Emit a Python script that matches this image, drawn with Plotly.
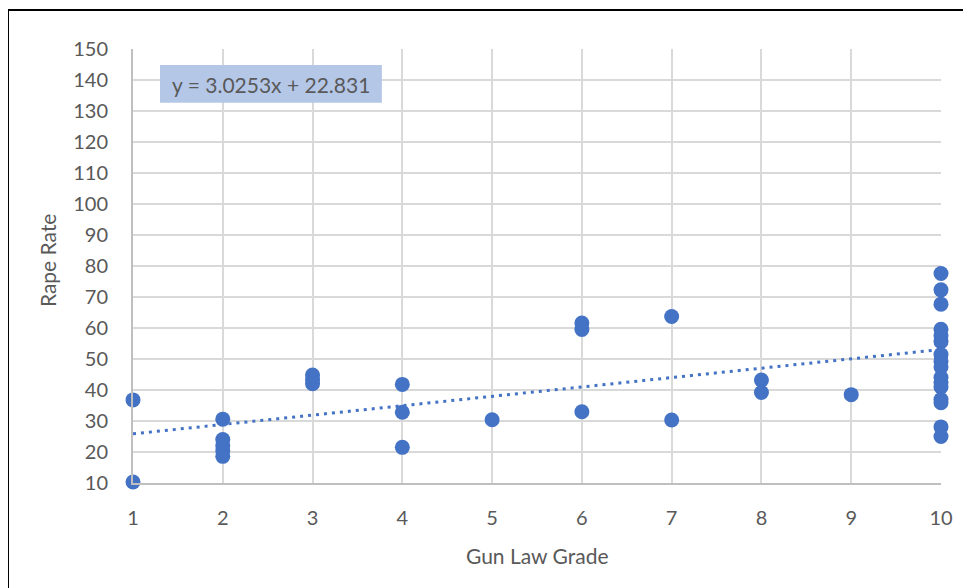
import plotly.graph_objects as go

# Data
grade = [1, 1,
         2, 2, 2, 2, 2,
         3, 3, 3,
         4, 4, 4,
         5,
         6, 6, 6,
         7, 7,
         8, 8,
         9,
         10, 10, 10, 10, 10, 10, 10, 10, 10, 10, 10, 10, 10, 10, 10, 10, 10, 10]
rape_rate = [36.8, 10.3,
             30.6, 24.0, 22.0, 20.4, 18.6,
             44.8, 43.3, 42.0,
             41.8, 32.8, 21.5,
             30.4,
             61.6, 59.5, 33.0,
             63.7, 30.3,
             43.2, 39.2,
             38.5,
             151.2, 77.6, 72.3, 67.7, 59.6, 57.5, 55.6, 51.4, 49.3, 47.4, 44.0, 42.5, 41.0, 36.9, 35.9, 28.1, 25.0]

trend_slope = 3.0253
trend_intercept = 22.831
trend_x = [1, 10]
trend_y = [trend_slope * v + trend_intercept for v in trend_x]
equation_text = "y = 3.0253x + 22.831"

x_ticks = list(range(1, 11))
y_ticks = list(range(10, 151, 10))

BLUE = "#4472C4"
TXT = "#595959"
FONT = "Lato"

fig = go.Figure()
fig.add_trace(go.Scatter(
    x=trend_x, y=trend_y, mode="lines",
    line=dict(color=BLUE, width=3, dash="3px,5px"),
    hoverinfo="skip", showlegend=False, cliponaxis=False))
fig.add_trace(go.Scatter(
    x=grade, y=rape_rate, mode="markers",
    marker=dict(color=BLUE, size=15, line=dict(width=0)),
    showlegend=False, cliponaxis=False))

fig.update_layout(
    width=963, height=580,
    margin=dict(l=125, r=30, t=41, b=105),
    paper_bgcolor="white", plot_bgcolor="white",
    font=dict(family=FONT, color=TXT, size=20),
    xaxis=dict(range=[1, 10], tickvals=x_ticks, showgrid=True,
               gridcolor="#D9D9D9", gridwidth=2, zeroline=False,
               showline=True, linecolor="#BFBFBF", linewidth=2,
               ticks="", ticklabelstandoff=16,
               tickfont=dict(family=FONT, size=20, color=TXT)),
    yaxis=dict(range=[10, 150], tickvals=y_ticks, showgrid=True,
               gridcolor="#D9D9D9", gridwidth=2, zeroline=False,
               showline=True, linecolor="#BFBFBF", linewidth=2,
               ticks="", ticklabelstandoff=19,
               tickfont=dict(family=FONT, size=20, color=TXT)),
)

# Equation label box
fig.add_shape(type="rect", xref="paper", yref="paper",
              x0=0.0334, x1=0.308, y0=0.876, y1=0.963,
              fillcolor="#B4C7E7", line=dict(width=0), layer="above")
fig.add_annotation(xref="paper", yref="paper", x=0.171, y=0.919,
                   text=equation_text, showarrow=False,
                   font=dict(family=FONT, size=21, color=TXT),
                   xanchor="center", yanchor="middle")

# Axis titles
fig.add_annotation(xref="paper", yref="paper", x=0.501, y=-0.168,
                   text="Gun Law Grade", showarrow=False,
                   font=dict(family=FONT, size=21, color=TXT),
                   xanchor="center", yanchor="middle")
fig.add_annotation(xref="paper", yref="paper", x=-0.105, y=0.514,
                   text="Rape Rate", showarrow=False, textangle=-90,
                   font=dict(family=FONT, size=21, color=TXT),
                   xanchor="center", yanchor="middle")

# Outer frame (top and left edges visible)
fig.add_shape(type="line", xref="paper", yref="paper",
              x0=-0.1547, x1=1.05, y0=1.0899, y1=1.0899,
              line=dict(color="black", width=2))
fig.add_shape(type="line", xref="paper", yref="paper",
              x0=-0.1547, x1=-0.1547, y0=1.0899, y1=-0.25,
              line=dict(color="black", width=2))

fig.write_html("out.html")
